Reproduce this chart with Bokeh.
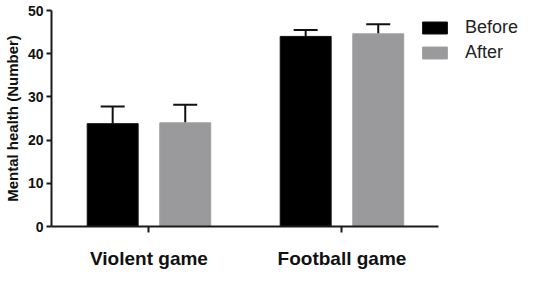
from bokeh.plotting import figure
from bokeh.models import ColumnDataSource, FixedTicker, Whisker, TeeHead, Legend, LegendItem, Range1d
from bokeh.transform import dodge
from bokeh.embed import file_html
from bokeh.resources import INLINE

categories = ["Violent game", "Football game"]
series = ["Before", "After"]
before_mean = [23.8, 44.0]
before_err = [4.0, 1.5]
after_mean = [24.0, 44.6]
after_err = [4.2, 2.2]
y_ticks = [0, 10, 20, 30, 40, 50]
y_title = "Mental health (Number)"

xpos = [i + 1 for i in range(len(categories))]
src_b = ColumnDataSource(dict(x=xpos, top=before_mean,
                              up=[m + e for m, e in zip(before_mean, before_err)]))
src_a = ColumnDataSource(dict(x=xpos, top=after_mean,
                              up=[m + e for m, e in zip(after_mean, after_err)]))

FONT = "Liberation Sans"
AX = "#1a1a1a"

p = figure(width=536, height=299, output_backend="svg", toolbar_location=None,
           x_range=Range1d(0.495, 3.008), y_range=Range1d(0, 50),
           min_border_left=51, min_border_right=0, min_border_top=10, min_border_bottom=73)
p.outline_line_color = None
p.xgrid.visible = False
p.ygrid.visible = False
p.background_fill_color = "white"
p.border_fill_color = "white"

off = 0.188
w = 0.264
rb = p.vbar(x=dodge("x", -off, range=p.x_range), top="top", bottom=0, width=w, source=src_b,
            fill_color="#000000", line_color="#111111", line_width=1)
ra = p.vbar(x=dodge("x", off, range=p.x_range), top="top", bottom=0, width=w, source=src_a,
            fill_color="#9a9a9c", line_color="#a0a0a2", line_width=1)

for src, o in ((src_b, -off), (src_a, off)):
    wk = Whisker(base=dodge("x", o, range=p.x_range), lower="top", upper="up", source=src,
                 dimension="height", line_color="#111111", line_width=2,
                 lower_head=None,
                 upper_head=TeeHead(size=24, line_width=2, line_color="#111111"))
    p.add_layout(wk)

# axes
p.xaxis.ticker = FixedTicker(ticks=xpos)
p.xaxis.major_label_overrides = {x: c for x, c in zip(xpos, categories)}
p.xaxis.bounds = (0.495, 2.5)
p.xaxis.axis_line_width = 2
p.xaxis.axis_line_color = AX
p.xaxis.major_tick_line_color = AX
p.xaxis.major_tick_line_width = 2
p.xaxis.major_tick_out = 6
p.xaxis.major_tick_in = 0
p.xaxis.minor_tick_line_color = None
p.xaxis.major_label_text_font = FONT
p.xaxis.major_label_text_font_style = "bold"
p.xaxis.major_label_text_font_size = "19px"
p.xaxis.major_label_text_color = "#111111"
p.xaxis.major_label_standoff = 15

p.yaxis.ticker = FixedTicker(ticks=y_ticks)
p.yaxis.bounds = (0, 50)
p.yaxis.axis_line_width = 2
p.yaxis.axis_line_color = AX
p.yaxis.major_tick_line_color = AX
p.yaxis.major_tick_line_width = 2
p.yaxis.major_tick_out = 5
p.yaxis.major_tick_in = 0
p.yaxis.minor_tick_line_color = None
p.yaxis.major_label_text_font = FONT
p.yaxis.major_label_text_font_style = "bold"
p.yaxis.major_label_text_font_size = "14px"
p.yaxis.major_label_text_color = "#111111"
p.yaxis.major_label_standoff = 3
p.yaxis.axis_label = y_title
p.yaxis.axis_label_text_font = FONT
p.yaxis.axis_label_text_font_style = "bold"
p.yaxis.axis_label_text_font_size = "15px"
p.yaxis.axis_label_text_color = "#111111"
p.yaxis.axis_label_standoff = 4

legend = Legend(items=[LegendItem(label=series[0], renderers=[rb]),
                       LegendItem(label=series[1], renderers=[ra])],
                location=(368, 163), padding=0, margin=0, spacing=4,
                glyph_width=31, glyph_height=15, label_height=15, label_standoff=15,
                label_text_font=FONT, label_text_font_size="18px", label_text_color="#222222",
                border_line_color=None, background_fill_alpha=0)
p.add_layout(legend)

open("out.html", "w").write(file_html(p, INLINE))
